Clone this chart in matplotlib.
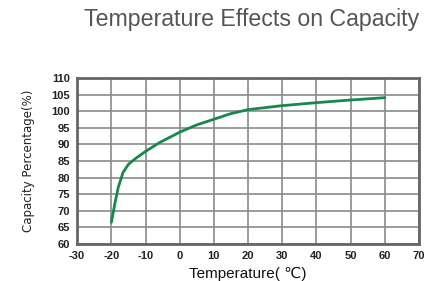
import numpy as np
import matplotlib.pyplot as plt

plt.rcParams["axes.unicode_minus"] = False

temps = [-20, -19, -18, -16.6, -15, -13, -10, -6, 0, 5, 10, 15, 20, 30, 40, 50, 60]
capacity = [66.5, 72, 77, 81.5, 84, 85.7, 87.9, 90.5, 93.7, 95.9, 97.6, 99.3, 100.5,
            101.7, 102.6, 103.4, 104.1]
xticks = list(range(-30, 71, 10))
yticks = list(range(60, 111, 5))

fig = plt.figure(figsize=(4.36, 2.81), dpi=100)
ax = fig.add_axes([0.177, 0.132, 0.784, 0.590])

ax.plot(temps, capacity, color="#15894a", lw=2.0, solid_capstyle="round")

ax.set_xlim(-30, 70)
ax.set_ylim(60, 110)
ax.set_xticks(xticks)
ax.set_yticks(yticks)
ax.grid(True, color="#8a8a8a", lw=1.2)
ax.set_axisbelow(True)
ax.tick_params(length=0, labelsize=8, colors="#222222", pad=5)
for lbl in ax.get_xticklabels() + ax.get_yticklabels():
    lbl.set_fontweight("bold")
    lbl.set_family("Liberation Sans")
for s in ax.spines.values():
    s.set_color("#666666")
    s.set_linewidth(2)

ax.set_xlabel("Temperature( ℃)", fontsize=11, family=["Liberation Sans", "DejaVu Sans"],
              color="#111111", labelpad=4)
ax.set_ylabel("Capacity Percentage(%)", fontsize=8.5, family="Liberation Sans Narrow",
              color="#222222", labelpad=12)

fig.text(0.577, 0.93, "Temperature Effects on Capacity", ha="center", va="center",
         fontsize=16.7, family="Liberation Sans", color="#555555")

fig.savefig("out.png", dpi=100)
